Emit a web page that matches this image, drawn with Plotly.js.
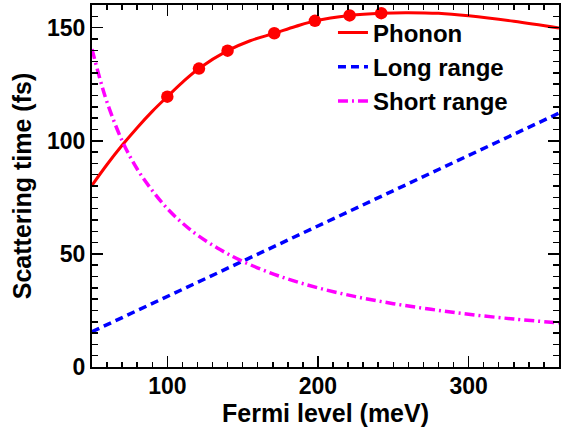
<!DOCTYPE html>
<html>
<head>
<meta charset="utf-8">
<script src="https://cdn.plot.ly/plotly-3.0.1.min.js"></script>
<style>html,body{margin:0;padding:0;background:#fff;}#chart{width:562px;height:427px;}</style>
</head>
<body>
<div id="chart"></div>
<script>
// Phonon curve (Fermi level meV -> scattering time fs)
var phononX = [50, 60, 70, 80, 90, 100, 110, 121, 140, 155, 171, 185, 198, 221, 242, 260, 280, 300, 330, 360];
var phononY = [80.3, 89.5, 98, 105.8, 113, 119.5, 125.8, 131.9, 139.8, 144.2, 147.5, 150.5, 153, 155.4, 156.4, 156.6, 156.3, 155.2, 152.8, 149.8];
// Phonon computed points (markers)
var phononPtsX = [100, 121, 140, 171, 198, 221, 242];
var phononPtsY = [119.5, 131.9, 139.8, 147.5, 153, 155.4, 156.4];
// Long range
var longX = [50, 150, 250, 360];
var longY = [15.6, 46.7, 77.9, 112.2];
// Short range
var shortX = [50, 55, 60, 70, 80, 90, 100, 110, 120, 135, 150, 175, 200, 225, 250, 275, 300, 330, 360];
var shortY = [140.5, 128, 117, 100, 87.5, 78, 70, 63.6, 58.3, 51.9, 46.7, 40, 35, 31.1, 28, 25.5, 23.3, 21.2, 19.5];

var seriesNames = ["Phonon", "Long range", "Short range"];
var xTitle = "Fermi level (meV)";
var yTitle = "Scattering time (fs)";

var FONT = "Liberation Sans, Arial, Helvetica, sans-serif";

var traces = [
  {x: phononX, y: phononY, mode: "lines", name: seriesNames[0],
   line: {color: "#ff0000", width: 3, shape: "spline"}},
  {x: longX, y: longY, mode: "lines", name: seriesNames[1],
   line: {color: "#0000ff", width: 3.5, dash: "8px,5px"}},
  {x: shortX, y: shortY, mode: "lines", name: seriesNames[2],
   line: {color: "#ff00ff", width: 3.5, dash: "10px,4px,2px,4px", shape: "spline"}},
  {x: phononPtsX, y: phononPtsY, mode: "markers", name: "Phonon points", showlegend: false,
   marker: {color: "#ff0000", size: 12.5, symbol: "circle"}}
];

var axisCommon = {
  showline: true, linecolor: "#000", linewidth: 2, mirror: "allticks",
  ticks: "inside", tickcolor: "#000", tickwidth: 1.5,
  showgrid: false, zeroline: false,
  tickfont: {family: FONT, size: 23, color: "#000", weight: 700}
};

var layout = {
  width: 562, height: 427,
  margin: {l: 92, r: 3, t: 5, b: 60},
  paper_bgcolor: "#fff", plot_bgcolor: "#fff",
  showlegend: true,
  legend: {x: 0.516, y: 0.985, xanchor: "left", yanchor: "top",
           bgcolor: "rgba(0,0,0,0)", borderwidth: 0,
           font: {family: FONT, size: 24, color: "#000", weight: 700},
           tracegroupgap: 0},
  xaxis: Object.assign({}, axisCommon, {
    range: [50, 360], tick0: 0, dtick: 100, ticklen: 11, ticklabelstandoff: -3,
    minor: {dtick: 10, tick0: 0, ticks: "inside", ticklen: 5, tickcolor: "#000", tickwidth: 1.5, showgrid: false},
    title: {text: xTitle, standoff: 7, font: {family: FONT, size: 25, color: "#000", weight: 700}}
  }),
  yaxis: Object.assign({}, axisCommon, {
    range: [0, 160], tick0: 0, dtick: 50, ticklen: 11,
    minor: {dtick: 5, tick0: 0, ticks: "inside", ticklen: 6, tickcolor: "#000", tickwidth: 1.5, showgrid: false},
    title: {text: yTitle, standoff: 8, font: {family: FONT, size: 25, color: "#000", weight: 700}}
  })
};

Plotly.newPlot("chart", traces, layout, {displayModeBar: false, staticPlot: true});
</script>
</body>
</html>
